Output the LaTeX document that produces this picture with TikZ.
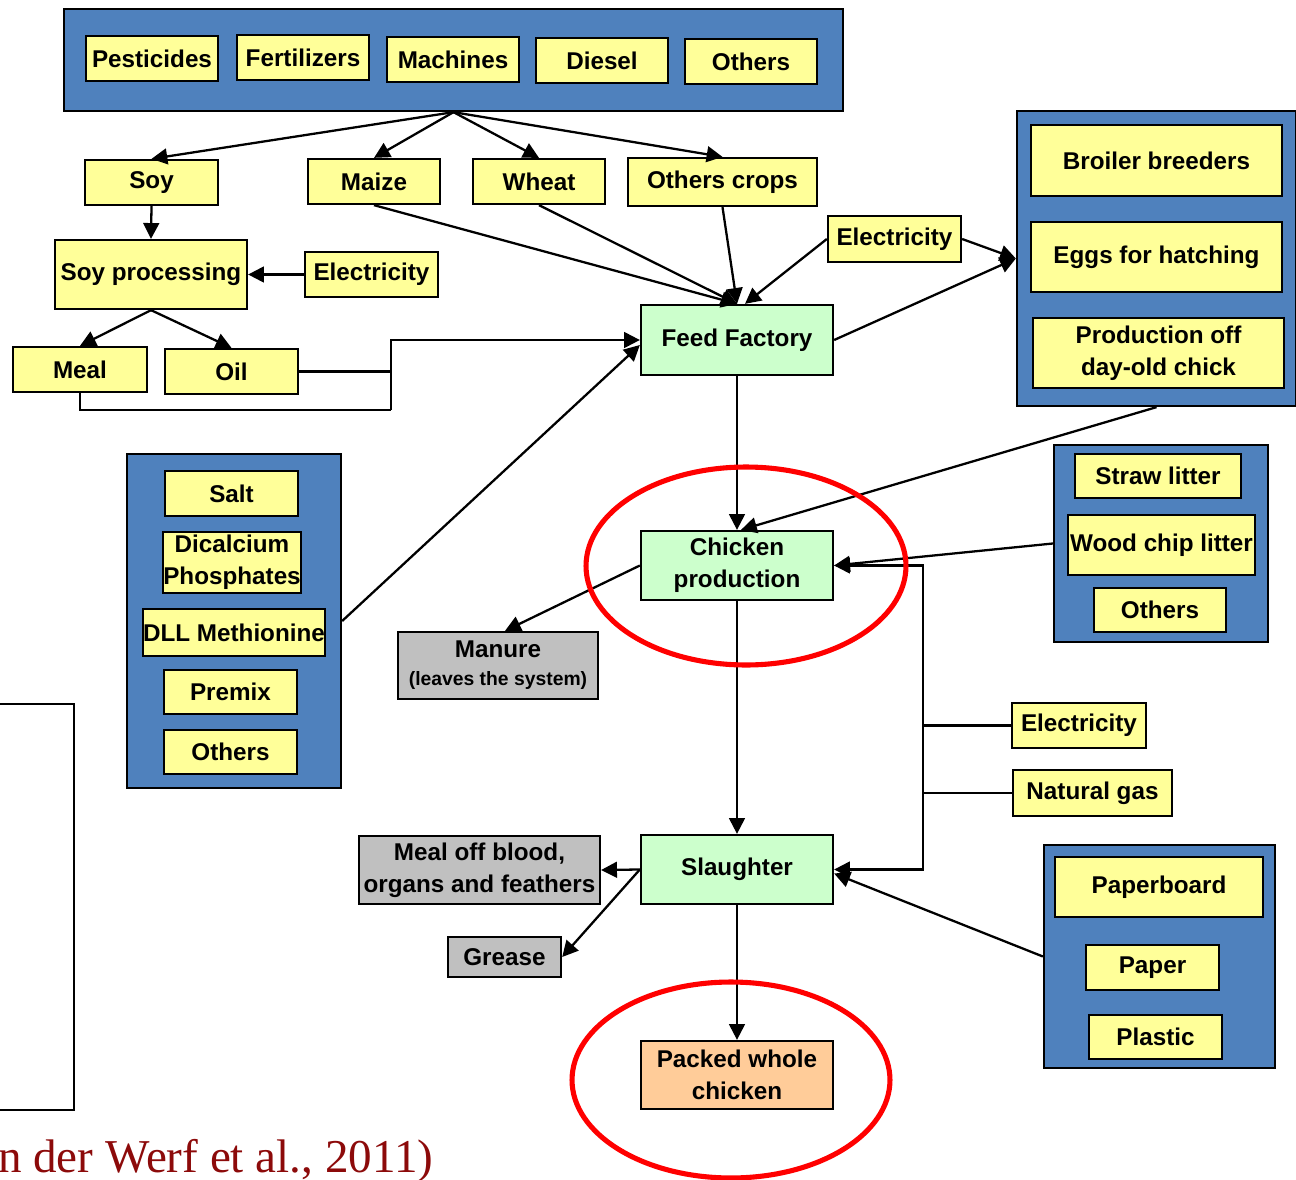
\documentclass[tikz,border=0pt]{standalone}
\usepackage{fontspec}
\setmainfont{Liberation Sans}
\newfontfamily\citefont{Liberation Serif}
\usetikzlibrary{arrows.meta,calc}

\definecolor{boxblue}{RGB}{79,129,189}
\definecolor{boxyellow}{RGB}{255,255,153}
\definecolor{boxgreen}{RGB}{204,255,204}
\definecolor{boxgray}{RGB}{192,192,192}
\definecolor{boxorange}{RGB}{255,204,153}
\definecolor{citered}{RGB}{140,10,10}

\begin{document}
\begin{tikzpicture}[x=0.02cm, y=-0.02cm, line width=1.3pt,
  >={Triangle[length=9pt,width=9pt]},
  sz/.style 2 args={minimum width=#1*0.02cm, minimum height=#2*0.02cm},
  box/.style={draw, rectangle, inner sep=1pt, align=center,
    font=\fontsize{13.8}{18}\selectfont\bfseries},
  ybox/.style={box, fill=boxyellow},
  gbox/.style={box, fill=boxgreen},
  greybox/.style={box, fill=boxgray},
  obox/.style={box, fill=boxorange},
  group/.style={draw, rectangle, fill=boxblue, inner sep=0pt},
  ring/.style={draw=red, line width=2.9pt}]

\useasboundingbox (0,0) rectangle (1296,1180);

% Farm inputs (top)
\node[group, sz={779}{102}] (inputs) at (453.5,60) {};
\foreach \n/\x/\y/\t in {pest/152/58.5/Pesticides, fert/303/57.5/Fertilizers,
    mach/453/59.5/Machines, diesel/602/60.5/Diesel, oin/751/61.5/Others}
  \node[ybox, sz={132}{45}] (\n) at (\x,\y) {\t};

% Crops
\node[ybox, sz={133}{45}] (soy) at (151.5,182.5) {Soy};
\node[ybox, sz={132}{45}] (maize) at (374,181.5) {Maize};
\node[ybox, sz={132}{45}] (wheat) at (539,181.5) {Wheat};
\node[ybox, sz={189}{48}] (ocrops) at (722.5,182) {Others crops};
\foreach \c in {soy,maize,wheat,ocrops}
  \draw[->] (inputs.south) -- (\c.north);

% Soy processing
\node[ybox, sz={192}{69}] (sproc) at (151,274.5) {Soy processing};
\node[ybox, sz={133}{45}] (elsoy) at (371.5,274.5) {Electricity};
\node[ybox, sz={134}{45}] (meal) at (80,369.5) {Meal};
\node[ybox, sz={133}{45}] (oil) at (231.5,371.5) {Oil};
\draw[->] (soy.south) -- (sproc.north);
\draw[->] (elsoy.west) -- (sproc.east);
\draw[->] (sproc.south) -- (meal.north);
\draw[->] (sproc.south) -- (oil.north);

% Feed factory
\node[gbox, sz={192}{70}] (ff) at (737,340) {Feed Factory};
\node[ybox, sz={133}{46}] (elfeed) at (894.5,239) {Electricity};
\coordinate (join) at (391,410);
\draw (meal.south) |- (join);
\draw (oil.east) -- (oil.east -| join);
\draw[->] (join) |- (ff.west);
\foreach \c in {maize,wheat,ocrops}
  \draw[->] (\c.south) -- (ff.north);
\draw[->] (elfeed.west) -- ($(ff.north)+(8,0)$);

% Broilers
\node[group, sz={279}{295}] (breed) at (1156.5,258.5) {};
\node[ybox, sz={251}{71}] (bb) at (1156.5,160.5) {Broiler breeders};
\node[ybox, sz={251}{70}] (eggs) at (1156.5,257) {Eggs for hatching};
\node[ybox, sz={251}{70}] (doc) at (1158.5,353) {Production off\\day-old chick};
\draw[->] (elfeed.east) -- (breed.west);
\draw[->] (ff.east) -- (breed.west);

% Minerals and additives
\node[group, sz={214}{334}] (addit) at (234,621) {};
\node[ybox, sz={133}{45}] (salt) at (231.5,493.5) {Salt};
\node[ybox, sz={134}{61}, inner xsep=0pt] (dcp) at (232,562.5) {Dicalcium\\Phosphates};
\node[ybox, sz={182}{47}, inner xsep=0pt] (dll) at (234,632.5) {DLL Methionine};
\node[ybox, sz={133}{44}] (premix) at (230.5,692) {Premix};
\node[ybox, sz={133}{44}] (oadd) at (230.5,752) {Others};
\draw[->] (addit.east) -- ($(ff.west)+(0,5)$);

% Chicken production
\node[gbox, sz={192}{69}] (chick) at (737,565.5) {Chicken\\production};
\draw[->] (ff.south) -- (chick.north);
\draw[->] (breed.south) -- ($(chick.north)+(4,0)$);

% Litter
\node[group, sz={214}{197}] (litter) at (1161,543.5) {};
\node[ybox, sz={166}{44}] (straw) at (1158,476) {Straw litter};
\node[ybox, sz={187}{60}, inner xsep=0pt] (wood) at (1161.5,545) {Wood chip litter};
\node[ybox, sz={132}{44}] (olit) at (1160,610) {Others};
\draw[->] (litter.west) -- (chick.east);

% Manure
\node[greybox, sz={200}{67}] (manure) at (498,665.5)
  {Manure\\[-2pt]{\fontsize{11}{12}\selectfont (leaves the system)}};
\draw[->] (chick.west) -- ($(manure.north)+(7,0)$);

% Slaughter
\node[gbox, sz={192}{69}] (slaught) at (737,869.5) {Slaughter};
\draw[->] (chick.south) -- (slaught.north);

% Energy
\node[ybox, sz={134}{45}] (elslau) at (1079,725.5) {Electricity};
\node[ybox, sz={159}{46}] (gas) at (1092.5,793) {Natural gas};
\coordinate (bus) at (923,720);
\draw[->] (bus) |- (chick.east);
\draw[->] (bus) |- (slaught.east);
\draw (elslau.west) -- (elslau.west -| bus);
\draw (gas.west) -- (gas.west -| bus);

% Packaging
\node[group, sz={231}{223}] (packg) at (1159.5,956.5) {};
\node[ybox, sz={208}{60}] (board) at (1159,887) {Paperboard};
\node[ybox, sz={133}{45}] (paper) at (1152.5,967.5) {Paper};
\node[ybox, sz={133}{44}] (plastic) at (1155.5,1037) {Plastic};
\draw[->] (packg.west) -- ($(slaught.east)+(0,4)$);

% By-products
\node[greybox, sz={241}{68}] (blood) at (479.5,870) {Meal off blood,\\organs and feathers};
\node[greybox, sz={113}{40}] (grease) at (504.5,957) {Grease};
\draw[->] (slaught.west) -- (blood.east);
\draw[->] (slaught.west) -- (grease.east);

% Product
\node[obox, sz={192}{68}] (packed) at (737,1075) {Packed whole\\chicken};
\draw[->] (slaught.south) -- (packed.north);

% Highlights
\draw[ring] (746,566) ellipse [x radius=3.2cm, y radius=1.98cm];
\draw[ring] (731,1080) ellipse [x radius=3.18cm, y radius=1.96cm];

% Left frame and source
\draw (-10,704) rectangle (74,1110);
\node[anchor=base west, inner sep=0pt, text=citered,
  font=\citefont\fontsize{26.8}{30}\selectfont] (source) at (-3,1172)
  {n der Werf et al., 2011)};

\end{tikzpicture}
\end{document}
